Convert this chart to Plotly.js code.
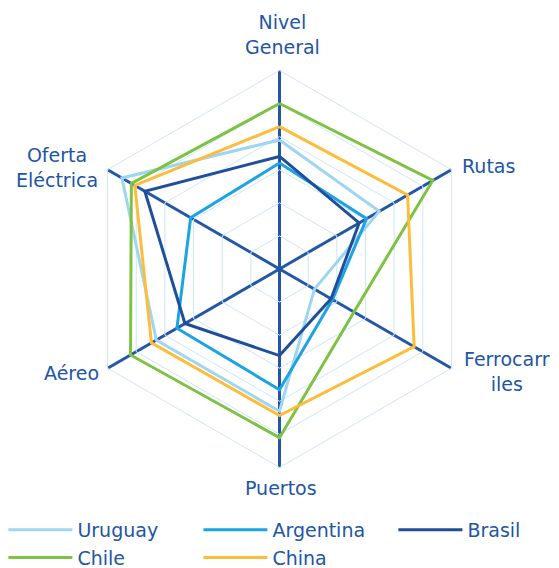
<!DOCTYPE html>
<html>
<head>
<meta charset="utf-8">
<script src="https://cdn.plot.ly/plotly-3.0.1.min.js"></script>
<style>html,body{margin:0;padding:0;background:#fff;overflow:hidden;}#chart{width:559px;height:568px;}</style>
</head>
<body>
<div id="chart"></div>
<script>
const categories = ["Nivel General", "Rutas", "Ferrocarriles", "Puertos", "Aéreo", "Oferta Eléctrica"];
const tickLabels = ["Nivel<br>General", "Rutas", "Ferrocarr<br>iles", "Puertos", "Aéreo", "Oferta<br>Eléctrica"];
const seriesNames = ["Uruguay", "Argentina", "Brasil", "Chile", "China"];
const uruguay   = [3.9, 3.48, 1.22, 4.3, 4.3, 5.5];
const argentina = [3.2, 3.04, 1.85, 3.65, 3.58, 3.1];
const brasil    = [3.4, 2.78, 1.8, 2.62, 3.3, 4.7];
const chile     = [5.0, 5.35, 2.6, 5.1, 5.2, 5.17];
const china     = [4.3, 4.47, 4.7, 4.43, 4.47, 5.05];
const colors = ["#9ED6F2", "#1BA3E3", "#1F4E9C", "#7DC243", "#FDBD3A"];
const seriesValues = [uruguay, argentina, brasil, chile, china];
// legend column for each series (column 1: Uruguay/Chile, 2: Argentina/China, 3: Brasil)
const legendIds = ["legend", "legend2", "legend3", "legend", "legend2"];

const close = a => a.concat([a[0]]);
const traces = seriesValues.map((vals, i) => ({
  type: "scatterpolar",
  mode: "lines",
  name: seriesNames[i],
  legend: legendIds[i],
  r: close(vals),
  theta: close(categories),
  line: {color: colors[i], width: 3},
  hoverinfo: "skip"
}));

const txt = "#2155A5";
const W = 559, H = 568;
// label anchor positions in pixels (x, y, xanchor)
const labelPos = [
  [282, 35, "center"],
  [460, 166, "left"],
  [507, 371, "center"],
  [281, 488, "center"],
  [71, 373, "center"],
  [57, 167, "center"]
];
const annotations = tickLabels.map((t, i) => ({
  text: t, showarrow: false, xref: "paper", yref: "paper",
  x: labelPos[i][0] / W, y: 1 - labelPos[i][1] / H,
  xanchor: labelPos[i][2], yanchor: "middle", align: "center",
  font: {family: "DejaVu Sans", size: 19, color: txt}
}));

const legendBase = (xpx) => ({
  orientation: "v", x: xpx / W, xanchor: "left", y: 1 - 511 / H, yanchor: "top",
  itemwidth: 64, traceorder: "normal", tracegroupgap: 0,
  bgcolor: "rgba(0,0,0,0)",
  font: {family: "DejaVu Sans", size: 19, color: txt}
});

const layout = {
  width: W, height: H,
  margin: {l: 0, r: 0, t: 0, b: 0, autoexpand: false},
  paper_bgcolor: "#fff",
  showlegend: true,
  font: {family: "DejaVu Sans", size: 19, color: txt},
  annotations: annotations,
  polar: {
    domain: {x: [0.1449, 0.8551], y: [0.176, 0.877]},
    gridshape: "linear",
    bgcolor: "#fff",
    radialaxis: {
      range: [0, 6], dtick: 1, showticklabels: false, ticks: "",
      showline: false, gridcolor: "#CDE7F8", gridwidth: 1
    },
    angularaxis: {
      type: "category",
      categoryarray: categories,
      rotation: 90, direction: "clockwise",
      showticklabels: false, ticks: "",
      gridcolor: "#2357A6", gridwidth: 3,
      linecolor: "#CDE7F8", linewidth: 1
    }
  },
  legend: legendBase(3.4),
  legend2: legendBase(198.4),
  legend3: legendBase(393.4)
};
Plotly.newPlot("chart", traces, layout, {displayModeBar: false, staticPlot: true});
</script>
</body>
</html>
